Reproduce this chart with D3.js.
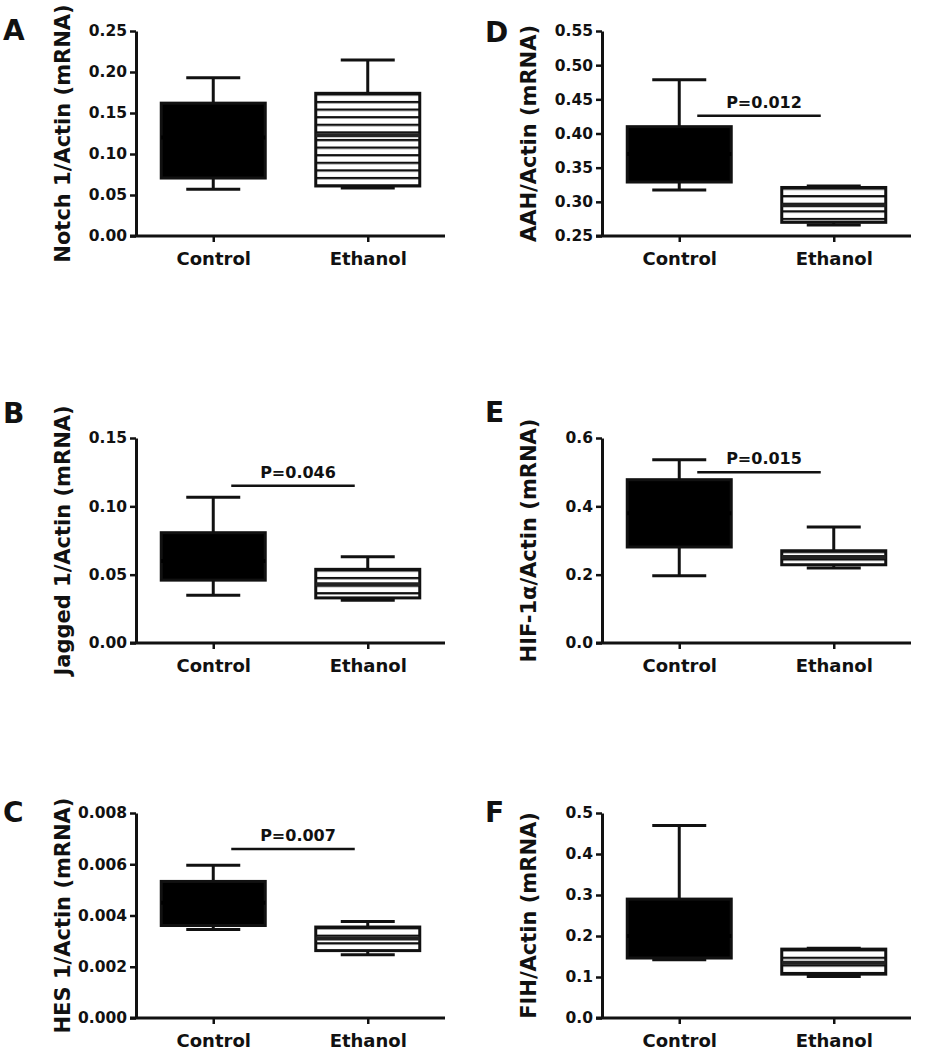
<!DOCTYPE html>
<html><head><meta charset="utf-8">
<script src="https://cdn.jsdelivr.net/npm/d3@7"></script>
<style>
body{margin:0;background:#fff}
svg{display:block}
text{font-family:"DejaVu Sans",sans-serif;font-weight:bold;fill:#111}
</style>
</head><body>
<svg id="c" width="928" height="1050"></svg>
<script>
// ---------- data ----------
const categories = ["Control", "Ethanol"];
const panelLetters = ["A", "B", "C", "D", "E", "F"];
const yLabels = ["Notch 1/Actin (mRNA)", "Jagged 1/Actin (mRNA)", "HES 1/Actin (mRNA)",
                 "AAH/Actin (mRNA)", "HIF-1α/Actin (mRNA)", "FIH/Actin (mRNA)"];
const yDomains = [[0, 0.25], [0, 0.15], [0, 0.008], [0.25, 0.55], [0, 0.6], [0, 0.5]];
const ticksA = [0, 0.05, 0.10, 0.15, 0.20, 0.25];
const ticksB = [0, 0.05, 0.10, 0.15];
const ticksC = [0, 0.002, 0.004, 0.006, 0.008];
const ticksD = [0.25, 0.30, 0.35, 0.40, 0.45, 0.50, 0.55];
const ticksE = [0, 0.2, 0.4, 0.6];
const ticksF = [0, 0.1, 0.2, 0.3, 0.4, 0.5];
const tickFormats = [".2f", ".2f", ".3f", ".2f", ".1f", ".1f"];
// box stats: [min, q1, median, q3, max]
const controlA = [0.057, 0.0707, 0.12, 0.162, 0.193];
const ethanolA = [0.0585, 0.061, 0.123, 0.174, 0.2146];
const controlB = [0.035, 0.046, 0.06, 0.0807, 0.1067];
const ethanolB = [0.0313, 0.033, 0.043, 0.0539, 0.0631];
const controlC = [0.00345, 0.00361, 0.0045, 0.00533, 0.00596];
const ethanolC = [0.00247, 0.00263, 0.0031, 0.00355, 0.00377];
const controlD = [0.3175, 0.329, 0.37, 0.41, 0.4786];
const ethanolD = [0.266, 0.27, 0.295, 0.321, 0.323];
const controlE = [0.197, 0.281, 0.38, 0.478, 0.5365];
const ethanolE = [0.2195, 0.229, 0.252, 0.27, 0.3395];
const controlF = [0.142, 0.1463, 0.2, 0.29, 0.4698];
const ethanolF = [0.1015, 0.107, 0.135, 0.168, 0.17];
const pLabels = [null, "P=0.046", "P=0.007", "P=0.012", "P=0.015", null];
const pLevels = [null, 0.115, 0.0066, 0.426, 0.50, null];

const tickSets = [ticksA, ticksB, ticksC, ticksD, ticksE, ticksF];
const statsControl = [controlA, controlB, controlC, controlD, controlE, controlF];
const statsEthanol = [ethanolA, ethanolB, ethanolC, ethanolD, ethanolE, ethanolF];

// ---------- layout ----------
const colX = [136, 602], rowY = [31, 438, 813], W = 309, H = 205;
const letterX = [3, 485], letterY = [[40, 423, 822], [42, 422, 822]];
const boxW = 104, capW = 54, ink = "#111";

const svg = d3.select("#c");
const defs = svg.append("defs");

panelLetters.forEach((letter, i) => {
  const col = Math.floor(i / 3), row = i % 3;
  svg.append("text").attr("x", letterX[col]).attr("y", letterY[col][row])
    .attr("font-size", 28).text(letter);

  const g = svg.append("g").attr("transform", `translate(${colX[col]},${rowY[row]})`);
  const y = d3.scaleLinear().domain(yDomains[i]).range([H, 0]);
  const x = d3.scalePoint().domain(categories).range([0, W]).padding(0.5);

  // y axis
  const ya = g.append("g").call(d3.axisLeft(y).tickValues(tickSets[i])
      .tickFormat(d3.format(tickFormats[i])).tickSize(6).tickSizeOuter(0).tickPadding(3));
  ya.select(".domain").attr("stroke", ink).attr("stroke-width", 3);
  ya.selectAll(".tick line").attr("stroke", ink).attr("stroke-width", 2.5);
  ya.selectAll(".tick text").attr("font-size", 15.5).attr("font-family", "DejaVu Sans")
    .attr("font-weight", "bold").attr("fill", ink);

  // x axis
  const xa = g.append("g").attr("transform", `translate(0,${H})`)
    .call(d3.axisBottom(x).tickSize(6).tickSizeOuter(0).tickPadding(10));
  xa.select(".domain").attr("stroke", ink).attr("stroke-width", 3)
    .attr("d", `M-6,0H${W}`);
  xa.selectAll(".tick line").attr("stroke", ink).attr("stroke-width", 2.5);
  xa.selectAll(".tick text").attr("font-size", 18).attr("font-family", "DejaVu Sans")
    .attr("font-weight", "bold").attr("fill", ink);

  // y label
  g.append("text").attr("transform", `translate(-73,${H / 2}) rotate(-90)`)
    .attr("text-anchor", "middle").attr("dominant-baseline", "central")
    .attr("font-size", 21).text(yLabels[i]);

  // boxes
  [statsControl[i], statsEthanol[i]].forEach((s, k) => {
    const cx = x(categories[k]);
    const bg = g.append("g");
    bg.append("line").attr("x1", cx).attr("x2", cx).attr("y1", y(s[3])).attr("y2", y(s[4]))
      .attr("stroke", ink).attr("stroke-width", 3);
    bg.append("line").attr("x1", cx).attr("x2", cx).attr("y1", y(s[1])).attr("y2", y(s[0]))
      .attr("stroke", ink).attr("stroke-width", 3);
    [s[0], s[4]].forEach(v => {
      bg.append("line").attr("x1", cx - capW / 2).attr("x2", cx + capW / 2)
        .attr("y1", y(v)).attr("y2", y(v)).attr("stroke", ink).attr("stroke-width", 3);
    });
    let fill = "#000";
    if (k === 1) {
      const pid = `stripe${i}`;
      const pat = defs.append("pattern").attr("id", pid).attr("patternUnits", "userSpaceOnUse")
        .attr("x", 0).attr("y", y(s[3])).attr("width", 10).attr("height", 7.6);
      pat.append("rect").attr("width", 10).attr("height", 7.6).attr("fill", "#fff");
      pat.append("rect").attr("width", 10).attr("height", 2.3).attr("fill", "#111");
      fill = `url(#${pid})`;
    }
    bg.append("rect").attr("x", cx - boxW / 2).attr("y", y(s[3]))
      .attr("width", boxW).attr("height", y(s[1]) - y(s[3]))
      .attr("fill", fill).attr("stroke", ink).attr("stroke-width", 3);
    bg.append("line").attr("x1", cx - boxW / 2).attr("x2", cx + boxW / 2)
      .attr("y1", y(s[2])).attr("y2", y(s[2]))
      .attr("stroke", k === 0 ? "#000" : "#222").attr("stroke-width", 4);
  });

  // significance bar
  if (pLabels[i]) {
    const x1 = x(categories[0]) + 18, x2 = x(categories[1]) - 13, yy = y(pLevels[i]);
    g.append("line").attr("x1", x1).attr("x2", x2).attr("y1", yy).attr("y2", yy)
      .attr("stroke", ink).attr("stroke-width", 2.5);
    g.append("text").attr("x", (x1 + x2) / 2 + 5).attr("y", yy - 8)
      .attr("text-anchor", "middle").attr("font-size", 16).text(pLabels[i]);
  }
});
</script>
</body></html>
